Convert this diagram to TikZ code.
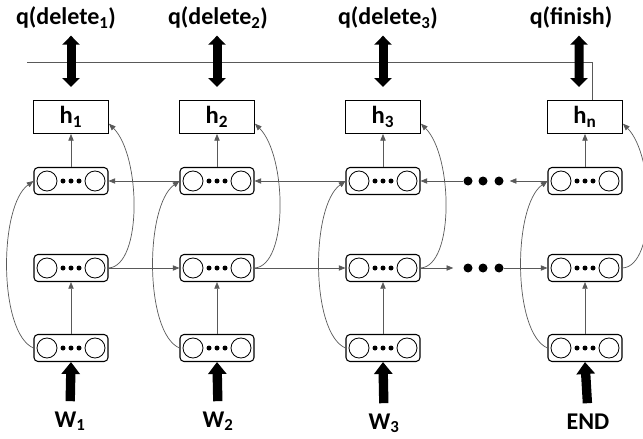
\documentclass[tikz,border=0pt]{standalone}
\usepackage{fontspec}
\setmainfont{Carlito}
\usetikzlibrary{arrows.meta}

\tikzset{
  hbox/.style={draw, line width=0.8pt, minimum width=2.25cm, minimum height=0.99cm, inner sep=0pt,
    font=\bfseries\fontsize{21}{25}\selectfont},
  module/.style={draw, line width=0.9pt, rounded corners=0.12cm, minimum width=2.22cm, minimum height=0.81cm, inner sep=0pt,
    path picture={
      \draw[line width=0.7pt] ([xshift=-0.72cm]path picture bounding box.center) circle[radius=0.3cm];
      \draw[line width=0.7pt] ([xshift=0.72cm]path picture bounding box.center) circle[radius=0.3cm];
      \fill ([xshift=-0.24cm]path picture bounding box.center) circle[radius=0.075cm];
      \fill (path picture bounding box.center) circle[radius=0.075cm];
      \fill ([xshift=0.24cm]path picture bounding box.center) circle[radius=0.075cm];
    }},
  lbl/.style={inner sep=0pt, anchor=base, font=\bfseries\fontsize{20.5}{24}\selectfont},
  bigdot/.style={circle, fill, inner sep=0pt, minimum size=0.27cm},
  line/.style={draw=black!65, line width=0.6pt},
  link/.style={line, -{Triangle[length=0.2cm,width=0.16cm]}},
  fat/.style={line width=0.28cm, -{Triangle[length=0.36cm,width=0.54cm]}},
  fatboth/.style={line width=0.27cm, {Triangle[length=0.27cm,width=0.51cm]}-{Triangle[length=0.27cm,width=0.51cm]}},
}

\begin{document}
\begin{tikzpicture}[x=0.03cm, y=0.03cm]
  \useasboundingbox (0,0) rectangle (643,438);

  % one column per time step
  \foreach \k/\x in {1/71, 2/217, 3/383, n/585} {
    \node[hbox]   (h\k) at (\x, 321) {h\textsubscript{\k}};
    \node[module] (t\k) at (\x, 257) {};
    \node[module] (m\k) at (\x, 170) {};
    \node[module] (b\k) at (\x, 90)  {};
  }

  % gaps in the chain
  \node[bigdot] (td1) at (468, 257) {};
  \node[bigdot] (td2) at (483, 257) {};
  \node[bigdot] (td3) at (499, 257) {};
  \node[bigdot] (md1) at (468, 170) {};
  \node[bigdot] (md2) at (483, 170) {};
  \node[bigdot] (md3) at (499, 170) {};

  % outputs and inputs
  \node[lbl] (q1) at (66, 413)  {q(delete\textsubscript{1})};
  \node[lbl] (q2) at (218, 413) {q(delete\textsubscript{2})};
  \node[lbl] (q3) at (388, 413) {q(delete\textsubscript{3})};
  \node[lbl] (qn) at (571, 413) {q(finish)};
  \node[lbl] (w1) at (70, 11)  {W\textsubscript{1}};
  \node[lbl] (w2) at (218, 11) {W\textsubscript{2}};
  \node[lbl] (w3) at (384, 9)  {W\textsubscript{3}};
  \node[lbl] (wn) at (588, 9)  {END};

  % shared bar
  \coordinate (bar) at (27, 376);
  \draw[line] (bar) -| ([xshift=0.21cm]hn.north);

  \foreach \k in {1,2,3}
    \draw[fatboth, shorten <=0.2cm, shorten >=0.39cm] (q\k.south -| h\k.north) -- (h\k.north);
  \draw[fatboth, shorten <=0.2cm, shorten >=0.39cm] ([xshift=0.24cm]qn.south) -- ([xshift=-0.18cm]hn.north);

  \foreach \k in {1,2,3,n}
    \draw[fat, shorten <=0.3cm] (w\k.north) -- (b\k.south);

  % inside each column
  \foreach \k in {1,2,3,n} {
    \draw[link] (t\k) -- (h\k);
    \draw[link] (b\k) -- (m\k);
    \draw[link] (b\k.west) .. controls +(-35,15) and +(-35,-25) .. (t\k.west);
    \draw[link] (m\k.east) .. controls +(34,2) and +(32,-32) .. (h\k.-10);
  }

  % backward row
  \draw[link] (t2) -- (t1);
  \draw[link] (t3) -- (t2);
  \draw[link] (td1) -- (t3);
  \draw[link, shorten >=0.18cm] (tn) -- (td3);

  % forward row
  \draw[link] (m1) -- (m2);
  \draw[link] (m2) -- (m3);
  \draw[link, shorten >=0.3cm] (m3) -- (md1);
  \draw[link] (md3) -- (mn);
\end{tikzpicture}
\end{document}
